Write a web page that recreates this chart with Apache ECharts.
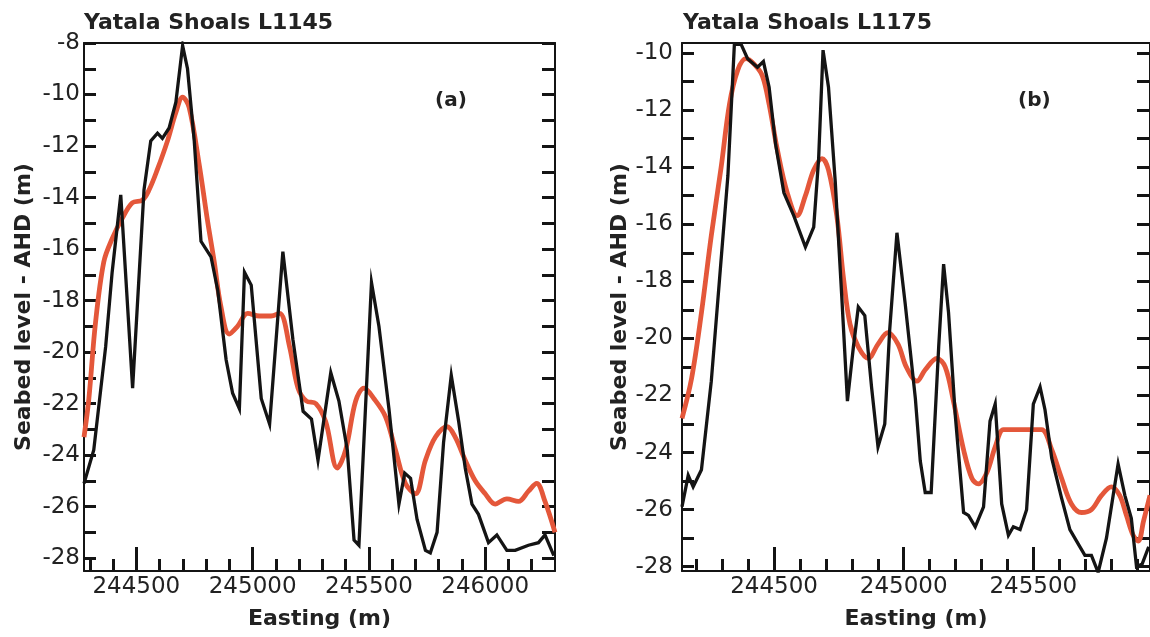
<!DOCTYPE html>
<html><head><meta charset="utf-8">
<script src="https://cdn.jsdelivr.net/npm/echarts@6/dist/echarts.min.js"></script>
<style>html,body{margin:0;padding:0;background:#fff}#c{width:1150px;height:637px}</style>
</head><body><div id="c"></div>
<script>
// ---------- Panel (a) L1145 ----------
const A_BLACK_X = [244275,244317,244368,244396,244433,244484,244533,244562,244591,244612,244641,244670,244699,244720,244749,244778,244821,244850,244886,244914,244943,244965,244994,245037,245073,245130,245173,245217,245253,245281,245336,245371,245407,245436,245457,245511,245543,245586,245629,245654,245679,245707,245743,245764,245793,245821,245854,245886,245914,245943,245971,246014,246050,246093,246129,246186,246229,246257,246295];
const A_BLACK_Y = [-25.1,-23.8,-19.8,-16.9,-13.9,-21.4,-13.7,-11.8,-11.5,-11.7,-11.3,-10.3,-8.1,-9.0,-11.8,-15.7,-16.3,-17.6,-20.3,-21.6,-22.2,-16.9,-17.4,-21.8,-22.8,-16.1,-19.5,-22.3,-22.6,-24.2,-20.8,-21.9,-23.8,-27.3,-27.5,-17.3,-19.0,-22.2,-25.9,-24.7,-24.9,-26.5,-27.7,-27.8,-27.0,-23.5,-20.9,-22.7,-24.5,-25.9,-26.3,-27.4,-27.1,-27.7,-27.7,-27.5,-27.4,-27.1,-27.9];
const A_RED_X = [244275,244296,244324,244360,244396,244440,244483,244526,244555,244591,244634,244670,244699,244727,244770,244806,244835,244863,244899,244935,244979,245029,245079,245116,245159,245195,245231,245272,245314,245364,245400,245443,245479,245521,245571,245614,245657,245700,245743,245786,245836,245871,245914,245957,246000,246043,246093,246143,246186,246221,246257,246300];
const A_RED_Y = [-23.3,-21.8,-18.9,-16.5,-15.6,-14.8,-14.2,-14.1,-13.7,-12.9,-11.8,-10.7,-10.1,-10.5,-12.7,-14.9,-16.5,-18.2,-19.3,-19.0,-18.5,-18.6,-18.6,-18.5,-19.8,-21.4,-21.9,-22.0,-22.7,-24.5,-23.8,-21.9,-21.4,-21.8,-22.5,-23.8,-25.1,-25.5,-24.2,-23.3,-22.9,-23.3,-24.2,-25.0,-25.5,-25.9,-25.7,-25.8,-25.4,-25.1,-25.8,-27.0];
// ---------- Panel (b) L1175 ----------
const B_BLACK_X = [244145,244169,244188,244220,244258,244290,244322,244347,244373,244398,244436,244459,244481,244506,244538,244576,244621,244653,244672,244689,244710,244736,244761,244783,244806,244825,244850,244876,244901,244927,244946,244974,245006,245045,245064,245083,245106,245135,245154,245173,245199,245231,245250,245276,245308,245333,245353,245378,245404,245423,245449,245474,245500,245526,245545,245571,245609,245641,245673,245699,245724,245750,245782,245808,245827,245853,245878,245898,245920,245945];
const B_BLACK_Y = [-25.9,-24.8,-25.2,-24.6,-21.5,-17.9,-14.3,-9.7,-9.7,-10.2,-10.5,-10.3,-11.2,-13.2,-14.9,-15.7,-16.8,-16.1,-13.7,-9.9,-11.2,-14.5,-18.5,-22.2,-20.3,-18.9,-19.2,-21.7,-23.8,-23.0,-19.7,-16.3,-18.8,-22.1,-24.3,-25.4,-25.4,-20.3,-17.4,-19.1,-22.7,-26.1,-26.2,-26.6,-25.9,-22.9,-22.3,-25.8,-26.9,-26.6,-26.7,-26.0,-22.3,-21.7,-22.5,-24.2,-25.6,-26.7,-27.2,-27.6,-27.6,-28.2,-27.0,-25.5,-24.4,-25.5,-26.3,-28.0,-27.9,-27.3];
const B_RED_X = [244145,244182,244220,244258,244296,244328,244360,244392,244424,244455,244481,244513,244551,244589,244621,244653,244685,244710,244742,244768,244793,244825,244863,244901,244939,244978,245010,245051,245083,245128,245160,245192,245231,245263,245288,245321,245353,245385,245417,245455,245494,245532,245571,245609,245647,245686,245724,245763,245801,245833,245859,245885,245905,245925,245950];
const B_RED_Y = [-22.8,-21.4,-19.1,-16.4,-14.0,-11.8,-10.6,-10.2,-10.4,-10.8,-11.8,-13.4,-14.9,-15.7,-15.0,-14.1,-13.7,-14.1,-15.7,-17.9,-19.5,-20.3,-20.7,-20.2,-19.8,-20.2,-21.0,-21.5,-21.1,-20.7,-21.0,-22.2,-23.9,-24.9,-25.1,-24.7,-23.8,-23.2,-23.2,-23.2,-23.2,-23.2,-23.9,-24.9,-25.8,-26.1,-26.0,-25.5,-25.2,-25.5,-26.2,-26.9,-27.1,-26.4,-25.5];
// ---------- Ticks ----------
const A_X_MAJOR = [244500,245000,245500,246000];
const A_X_MINOR = [244300,244400,244500,244600,244700,244800,244900,245000,245100,245200,245300,245400,245500,245600,245700,245800,245900,246000,246100,246200];
const A_Y_LABELS = [-28,-26,-24,-22,-20,-18,-16,-14,-12,-10,-8];
const A_Y_TICKS = [-28,-27,-26,-25,-24,-23,-22,-21,-20,-19,-18,-17,-16,-15,-14,-13,-12,-11,-10,-9,-8];
const B_X_MAJOR = [244500,245000,245500];
const B_X_MINOR = [244200,244300,244400,244500,244600,244700,244800,244900,245000,245100,245200,245300,245400,245500,245600,245700,245800,245900];
const B_Y_LABELS = [-28,-26,-24,-22,-20,-18,-16,-14,-12,-10];
const B_Y_TICKS = [-28,-27,-26,-25,-24,-23,-22,-21,-20,-19,-18,-17,-16,-15,-14,-13,-12,-11,-10];
const TITLES = ['Yatala Shoals L1145','Yatala Shoals L1175'];
const PANEL_TAGS = ['(a)','(b)'];
const X_NAME = 'Easting (m)';
const Y_NAME = 'Seabed level - AHD (m)';

const FONT = 'DejaVu Sans';
const INK = '#141414';
const TXT = '#222222';
const RED = '#e4573a';
const zip = (xs, ys) => xs.map((x, i) => [x, ys[i]]);
const fmt = v => String(v);

function xAxes(grid, min, max, major, minor) {
  return [
    { gridIndex: grid, type: 'value', position: 'bottom', min, max,
      axisLine: { show: true, lineStyle: { color: INK, width: 2 } },
      axisTick: { show: true, inside: true, length: 24, lineStyle: { color: INK, width: 3 }, customValues: major },
      axisLabel: { show: true, customValues: major, formatter: fmt, fontFamily: FONT, fontSize: 23, color: TXT, margin: 5 },
      splitLine: { show: false },
      name: X_NAME, nameLocation: 'middle', nameGap: 37,
      nameTextStyle: { fontFamily: FONT, fontSize: 22, fontWeight: 'bold', color: TXT } },
    { gridIndex: grid, type: 'value', position: 'bottom', min, max,
      axisLine: { show: false },
      axisTick: { show: true, inside: true, length: 12, lineStyle: { color: INK, width: 3 }, customValues: minor },
      axisLabel: { show: false }, splitLine: { show: false } },
    { gridIndex: grid, type: 'value', position: 'top', min, max,
      axisLine: { show: true, lineStyle: { color: INK, width: 2 } },
      axisTick: { show: false }, axisLabel: { show: false }, splitLine: { show: false } }
  ];
}
function yAxes(grid, min, max, labels, ticks, margin, gap) {
  return [
    { gridIndex: grid, type: 'value', position: 'left', min, max,
      axisLine: { show: true, lineStyle: { color: INK, width: 2 } },
      axisTick: { show: true, inside: true, length: 12, lineStyle: { color: INK, width: 3 }, customValues: ticks },
      axisLabel: { show: true, customValues: labels, formatter: fmt, fontFamily: FONT, fontSize: 23, color: TXT, margin },
      splitLine: { show: false },
      name: Y_NAME, nameLocation: 'middle', nameGap: gap,
      nameTextStyle: { fontFamily: FONT, fontSize: 22, fontWeight: 'bold', color: TXT } },
    { gridIndex: grid, type: 'value', position: 'right', min, max,
      axisLine: { show: true, lineStyle: { color: INK, width: 2 } },
      axisTick: { show: true, inside: true, length: 13, lineStyle: { color: INK, width: 3 }, customValues: ticks },
      axisLabel: { show: false }, splitLine: { show: false } }
  ];
}
function lines(xi, yi, rx, ry, bx, by) {
  return [
    { type: 'line', xAxisIndex: xi, yAxisIndex: yi, data: zip(rx, ry), smooth: 0.35, showSymbol: false,
      lineStyle: { color: RED, width: 4.8 }, z: 2, silent: true },
    { type: 'line', xAxisIndex: xi, yAxisIndex: yi, data: zip(bx, by), showSymbol: false,
      lineStyle: { color: INK, width: 3.3, join: 'miter' }, z: 3, silent: true }
  ];
}

const chart = echarts.init(document.getElementById('c'), null, { renderer: 'canvas' });
chart.setOption({
  animation: false,
  backgroundColor: '#fff',
  title: [
    { text: TITLES[0], left: 84, top: 12, padding: 0, textStyle: { fontFamily: FONT, fontSize: 22, fontWeight: 'bold', color: TXT } },
    { text: TITLES[1], left: 683, top: 12, padding: 0, textStyle: { fontFamily: FONT, fontSize: 22, fontWeight: 'bold', color: TXT } }
  ],
  grid: [
    { left: 84, top: 43, width: 471, height: 528 },
    { left: 682, top: 43, width: 469, height: 528 }
  ],
  xAxis: [].concat(
    xAxes(0, 244275, 246300, A_X_MAJOR, A_X_MINOR),
    xAxes(1, 244145, 245950, B_X_MAJOR, B_X_MINOR)
  ),
  yAxis: [].concat(
    yAxes(0, -28.5, -8, A_Y_LABELS, A_Y_TICKS, 4, 49),
    yAxes(1, -28.15, -9.65, B_Y_LABELS, B_Y_TICKS, 9, 51)
  ),
  graphic: [
    { type: 'text', left: 435, top: 91, style: { text: PANEL_TAGS[0], font: 'bold 20px "DejaVu Sans"', fill: TXT } },
    { type: 'text', left: 1018, top: 91, style: { text: PANEL_TAGS[1], font: 'bold 20px "DejaVu Sans"', fill: TXT } }
  ],
  series: [].concat(
    lines(0, 0, A_RED_X, A_RED_Y, A_BLACK_X, A_BLACK_Y),
    lines(3, 2, B_RED_X, B_RED_Y, B_BLACK_X, B_BLACK_Y)
  )
});
</script></body></html>
